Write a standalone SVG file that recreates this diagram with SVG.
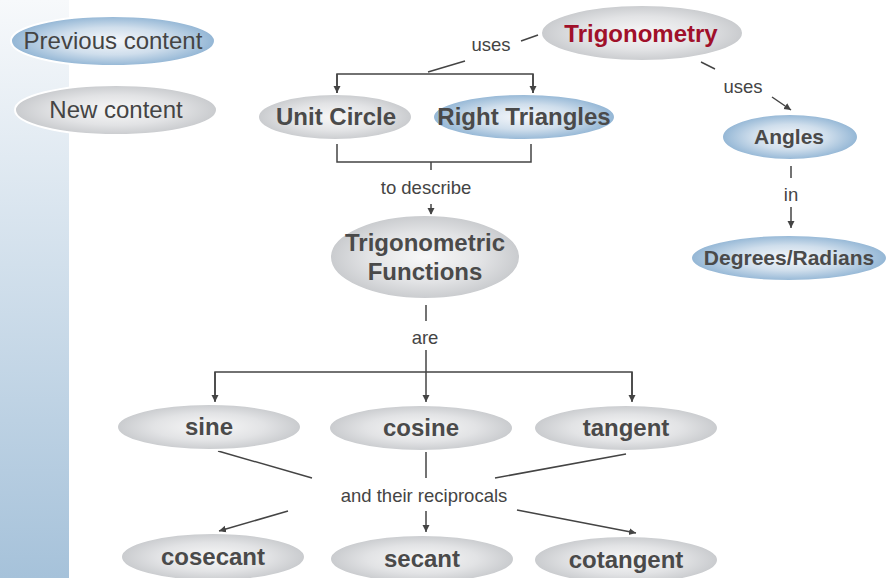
<svg xmlns="http://www.w3.org/2000/svg" width="886" height="578" viewBox="0 0 886 578">
<defs>
<linearGradient id="side" x1="0" y1="0" x2="0" y2="1">
<stop offset="0" stop-color="#f7f9fb"/>
<stop offset="1" stop-color="#a6c2da"/>
</linearGradient>
<radialGradient id="gray" cx="0.5" cy="0.5" r="0.5">
<stop offset="0" stop-color="#f8f8f8"/>
<stop offset="0.6" stop-color="#e2e3e5"/>
<stop offset="1" stop-color="#c9cbce"/>
</radialGradient>
<radialGradient id="blue" cx="0.5" cy="0.5" r="0.5">
<stop offset="0" stop-color="#f6f8fb"/>
<stop offset="0.55" stop-color="#cfdeec"/>
<stop offset="1" stop-color="#93b6d5"/>
</radialGradient>
<marker id="arr" markerWidth="8" markerHeight="8" refX="7" refY="4" orient="auto" markerUnits="userSpaceOnUse">
<path d="M0,0.5 L7,4 L0,7.5 z" fill="#444"/>
</marker>
</defs>
<style>
.g{fill:url(#gray);stroke:#fff;stroke-width:2}
.b{fill:url(#blue);stroke:#fff;stroke-width:2}
.t{font-family:"Liberation Sans",Arial,sans-serif;font-weight:bold;font-size:24px;fill:#4a4a4a;text-anchor:middle}
.s{font-size:21px}
.r{font-family:"Liberation Sans",Arial,sans-serif;font-size:24px;fill:#444;text-anchor:middle}
.l{font-family:"Liberation Sans",Arial,sans-serif;font-size:18.5px;fill:#444;text-anchor:middle}
.c{stroke:#444;stroke-width:1.5;fill:none}
.a{stroke:#444;stroke-width:1.5;fill:none;marker-end:url(#arr)}
</style>
<rect x="0" y="0" width="69" height="578" fill="url(#side)"/>

<g id="connectors">
<line class="c" x1="538" y1="35" x2="521" y2="41"/>
<text class="l" x="491" y="51">uses</text>
<line class="c" x1="465" y1="61" x2="428" y2="72"/>
<polyline class="c" points="337,93 337,74 533,74 533,93"/>
<line class="a" x1="337" y1="74" x2="337" y2="93"/>
<line class="a" x1="533" y1="74" x2="533" y2="93"/>

<polyline class="c" points="337,144 337,162 531,162 531,144"/>
<line class="c" x1="431" y1="162" x2="431" y2="170"/>
<text class="l" x="426" y="194">to describe</text>
<line class="a" x1="431" y1="204" x2="431" y2="215"/>

<line class="c" x1="426" y1="305" x2="426" y2="321"/>
<text class="l" x="425" y="344">are</text>
<line class="c" x1="426" y1="350" x2="426" y2="372"/>
<polyline class="c" points="215,401 215,372 632,372 632,401"/>
<line class="a" x1="215" y1="372" x2="215" y2="402"/>
<line class="a" x1="426" y1="372" x2="426" y2="402"/>
<line class="a" x1="632" y1="372" x2="632" y2="402"/>

<line class="c" x1="218" y1="451" x2="312" y2="478"/>
<line class="c" x1="426" y1="452" x2="426" y2="478"/>
<line class="c" x1="626" y1="454" x2="495" y2="478"/>
<text class="l" x="424" y="502">and their reciprocals</text>
<line class="a" x1="288" y1="511" x2="219" y2="531"/>
<line class="a" x1="426" y1="511" x2="426" y2="532"/>
<line class="a" x1="517" y1="510" x2="636" y2="533"/>

<line class="c" x1="701" y1="62" x2="715" y2="69"/>
<text class="l" x="743" y="93">uses</text>
<line class="a" x1="772" y1="97" x2="791" y2="110"/>

<line class="c" x1="791" y1="166" x2="791" y2="178"/>
<text class="l" x="791" y="201">in</text>
<line class="a" x1="791" y1="207" x2="791" y2="228"/>
</g>

<g id="previous-content"><ellipse class="b" cx="113" cy="41" rx="102" ry="25"/><text class="r" x="113" y="49">Previous content</text></g>
<g id="new-content"><ellipse class="g" cx="116" cy="110" rx="101" ry="25"/><text class="r" x="116" y="118">New content</text></g>
<g id="trigonometry"><ellipse class="g" cx="642" cy="33" rx="101" ry="28"/><text class="t" x="641" y="42" style="fill:#a0102a">Trigonometry</text></g>
<g id="unit-circle"><ellipse class="g" cx="335" cy="117" rx="77" ry="23"/><text class="t" x="336" y="125">Unit Circle</text></g>
<g id="right-triangles"><ellipse class="b" cx="524" cy="117" rx="91" ry="23"/><text class="t" x="524" y="125">Right Triangles</text></g>
<g id="angles"><ellipse class="b" cx="790" cy="137" rx="68" ry="23"/><text class="t s" x="789" y="144">Angles</text></g>
<g id="degrees-radians"><ellipse class="b" cx="789" cy="258" rx="98" ry="23"/><text class="t s" x="789" y="265">Degrees/Radians</text></g>
<g id="trigonometric-functions"><ellipse class="g" cx="425" cy="257" rx="95" ry="42"/><text class="t" x="425" y="251">Trigonometric</text><text class="t" x="425" y="280">Functions</text></g>
<g id="sine"><ellipse class="g" cx="209" cy="427" rx="92" ry="23"/><text class="t" x="209" y="435">sine</text></g>
<g id="cosine"><ellipse class="g" cx="421" cy="428" rx="92" ry="23"/><text class="t" x="421" y="436">cosine</text></g>
<g id="tangent"><ellipse class="g" cx="626" cy="428" rx="92" ry="23"/><text class="t" x="626" y="436">tangent</text></g>
<g id="cosecant"><ellipse class="g" cx="213" cy="557" rx="92" ry="24"/><text class="t" x="213" y="565">cosecant</text></g>
<g id="secant"><ellipse class="g" cx="422" cy="559" rx="92" ry="24"/><text class="t" x="422" y="567">secant</text></g>
<g id="cotangent"><ellipse class="g" cx="626" cy="560" rx="92" ry="24"/><text class="t" x="626" y="568">cotangent</text></g>
</svg>
